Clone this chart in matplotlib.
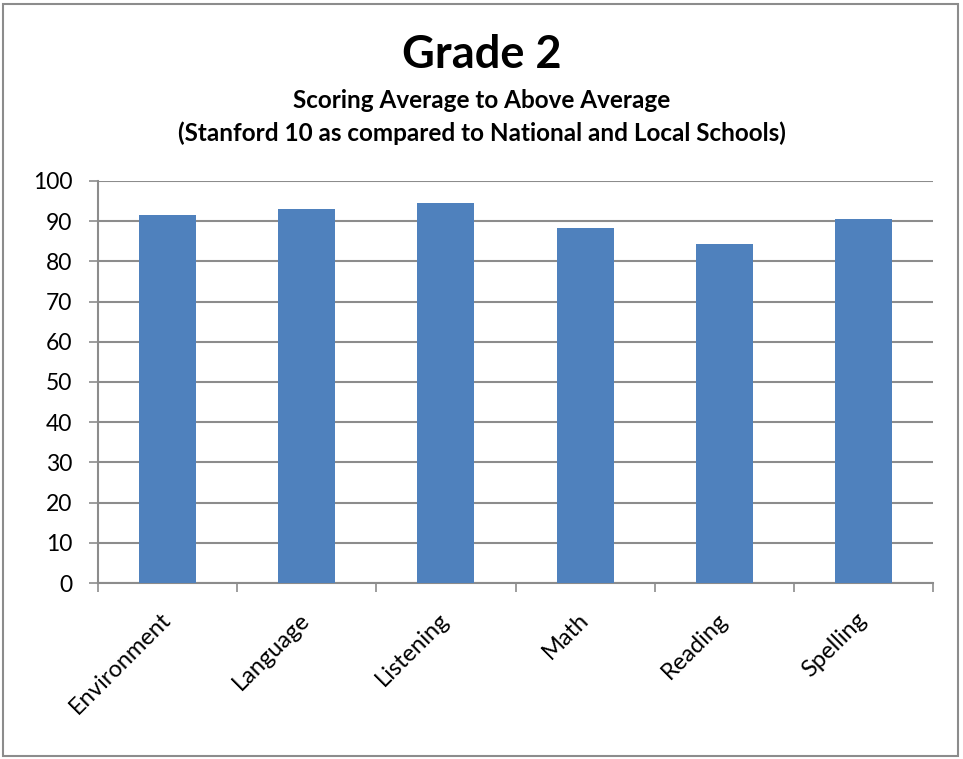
import numpy as np
import matplotlib
matplotlib.use('Agg')
import matplotlib.pyplot as plt
from matplotlib.patches import Rectangle

# values
subjects = ['Environment', 'Language', 'Listening', 'Math', 'Reading', 'Spelling']
scores = [91.5, 93.0, 94.5, 88.3, 84.3, 90.5]
yticks = [0, 10, 20, 30, 40, 50, 60, 70, 80, 90, 100]

plt.rcParams['font.family'] = ['Lato', 'DejaVu Sans']

fig = plt.figure(figsize=(9.63, 7.59), dpi=100)
# plot area in pixel terms: x 98..933, y 181..583
ax = fig.add_axes([98/963, 1 - 583/759, (933-98)/963, (583-181)/759])

x = np.arange(len(subjects))
ax.bar(x, scores, width=0.41, color='#4f81bd', zorder=3)

ax.set_xlim(-0.5, len(subjects) - 0.5)
ax.set_ylim(0, 100)
ax.set_yticks(yticks)
ax.set_yticklabels([str(v) for v in yticks], fontsize=16.5)
ax.yaxis.grid(True, color='#8c8c8c', linewidth=1.5, zorder=0)

# category ticks sit between bars
ax.set_xticks(np.arange(-0.5, len(subjects), 1.0))
ax.set_xticklabels([])
ax.set_xticks(x, minor=True)
ax.set_xticklabels(subjects, minor=True, rotation=45, ha='right', va='center',
                   rotation_mode='anchor', fontsize=17)
ax.tick_params(axis='x', which='minor', length=0, pad=24)
ax.tick_params(axis='x', which='major', length=6.5, color='#8c8c8c', width=1.2, direction='out')
ax.tick_params(axis='y', length=6.5, color='#8c8c8c', width=1.2, direction='out', pad=12)

for s in ['top', 'right']:
    ax.spines[s].set_visible(False)
for s in ['left', 'bottom']:
    ax.spines[s].set_color('#8c8c8c')
    ax.spines[s].set_linewidth(1.5)

fig.text(0.5, 1 - 55/759, 'Grade 2', ha='center', va='center', fontsize=32.5, fontweight='bold')
fig.text(0.5, 1 - 101/759, 'Scoring Average to Above Average', ha='center', va='center',
         fontsize=17.5, fontweight='bold')
fig.text(0.5, 1 - 133/759, '(Stanford 10 as compared to National and Local Schools)',
         ha='center', va='center', fontsize=17.5, fontweight='bold')

# outer chart border
fig.patches.append(Rectangle((3/963, 3/759), 955/963, 752/759, transform=fig.transFigure,
                             fill=False, edgecolor='#8c8c8c', linewidth=1.5))

fig.savefig('out.png', dpi=100)
